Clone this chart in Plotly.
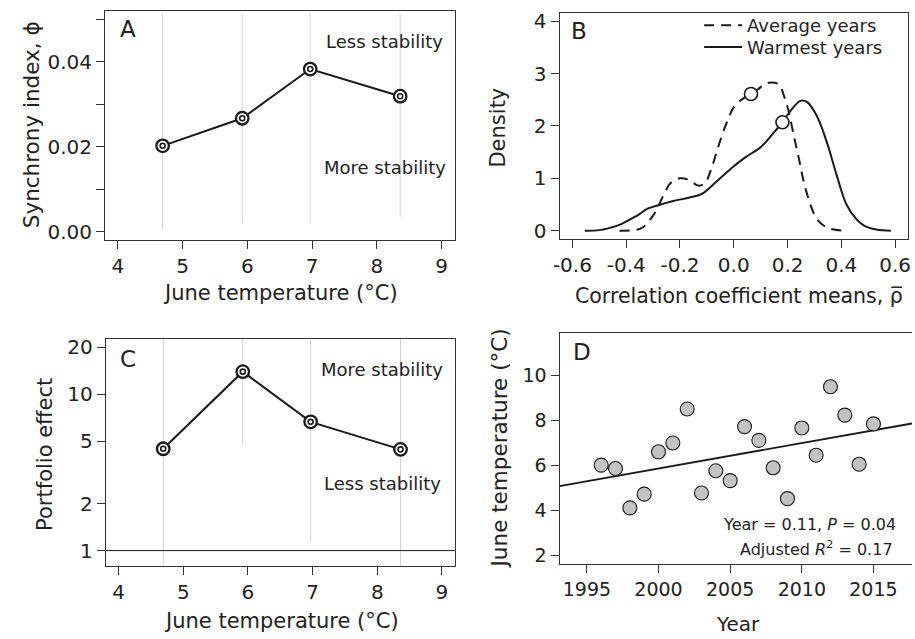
import plotly.graph_objects as go
import numpy as np

# ---------------- data ----------------
# Panels A & C
june_temp_groups = [4.69, 5.92, 6.97, 8.36]
synchrony_phi = [0.0202, 0.0267, 0.0383, 0.0319]
synchrony_ci_low = [0.0005, 0.0019, 0.0017, 0.0035]
synchrony_ci_high = [0.0514, 0.0514, 0.0514, 0.0514]
portfolio_effect = [4.49, 14.0, 6.68, 4.45]
portfolio_ci_low = [0.5, 4.76, 1.14, 0.5]
portfolio_ci_high = [40, 40, 40, 40]

# Panel B (density curves)
avg_rho = [-0.425, -0.37, -0.339, -0.297, -0.26, -0.235, -0.199, -0.168, -0.131, -0.107,
           -0.083, -0.058, -0.028, 0.003, 0.04, 0.064, 0.09, 0.113, 0.138, 0.168, 0.187,
           0.205, 0.223, 0.242, 0.26, 0.285, 0.309, 0.346, 0.401]
avg_density = [0.0, 0.01, 0.06, 0.31, 0.69, 0.91, 1.0, 0.97, 0.86, 0.91,
               1.19, 1.6, 2.04, 2.38, 2.54, 2.61, 2.7, 2.79, 2.83, 2.79, 2.57,
               2.26, 1.82, 1.38, 0.94, 0.5, 0.22, 0.06, 0.0]
warm_rho = [-0.554, -0.5, -0.456, -0.425, -0.394, -0.352, -0.321, -0.29, -0.229, -0.168,
            -0.119, -0.07, -0.009, 0.04, 0.101, 0.15, 0.181, 0.211, 0.248, 0.272, 0.309,
            0.346, 0.382, 0.419, 0.456, 0.486, 0.53, 0.584]
warm_density = [0.0, 0.01, 0.06, 0.11, 0.19, 0.31, 0.42, 0.47, 0.56, 0.63,
                0.70, 0.91, 1.19, 1.39, 1.60, 1.88, 2.07, 2.29, 2.48, 2.46, 2.19,
                1.69, 1.07, 0.50, 0.22, 0.09, 0.02, 0.0]
mean_rho = [0.064, 0.181]
mean_density = [2.61, 2.07]

# Panel D
years = list(range(1996, 2016))
june_temp = [6.02, 5.87, 4.12, 4.73, 6.61, 7.0, 8.51, 4.78, 5.77, 5.33,
             7.73, 7.12, 5.90, 4.53, 7.67, 6.46, 9.50, 8.24, 6.06, 7.85]

# tick labels
tempA_ticks = [4, 5, 6, 7, 8, 9]
phi_ticks = [0, 0.02, 0.04]
phi_ticktext = ["0.00", "0.02", "0.04"]
phi_minor_ticks = [0.01, 0.03, 0.05]
rho_ticks = [-0.6, -0.4, -0.2, 0.0, 0.2, 0.4, 0.6]
rho_ticktext = ["-0.6", "-0.4", "-0.2", "0.0", "0.2", "0.4", "0.6"]
dens_ticks = [0, 1, 2, 3, 4]
pe_ticks = [1, 2, 5, 10, 20]
year_ticks = [1995, 2000, 2005, 2010, 2015]
jt_ticks = [2, 4, 6, 8, 10]

# ---------------- layout helpers ----------------
W, H = 915, 639
FONT = "DejaVu Sans"
TXT = "#222222"
AX = "#333333"


def fx(p):
    return p / W


def fy(p):
    return 1 - p / H


def seg(xs, lo, hi):
    X, Y = [], []
    for x, a, b in zip(xs, lo, hi):
        X += [x, x, None]
        Y += [a, b, None]
    return X, Y


fig = go.Figure()

# ---- Panel A ----
cx, cy = seg(june_temp_groups, synchrony_ci_low, synchrony_ci_high)
fig.add_trace(go.Scatter(x=cx, y=cy, mode="lines", line=dict(color="#d4d4d4", width=1),
                         xaxis="x", yaxis="y", showlegend=False, hoverinfo="skip"))
fig.add_trace(go.Scatter(x=june_temp_groups, y=synchrony_phi, mode="lines+markers",
                         line=dict(color="#1a1a1a", width=2),
                         marker=dict(symbol="circle", size=12.5, color="white",
                                     line=dict(color="#1a1a1a", width=2.3)),
                         xaxis="x", yaxis="y", showlegend=False))
fig.add_trace(go.Scatter(x=june_temp_groups, y=synchrony_phi, mode="markers",
                         marker=dict(symbol="circle", size=5, color="white",
                                     line=dict(color="#1a1a1a", width=1.6)),
                         xaxis="x", yaxis="y", showlegend=False))

# ---- Panel B ----
fig.add_trace(go.Scatter(x=avg_rho, y=avg_density, mode="lines", name="Average years",
                         line=dict(color="#1a1a1a", width=2, dash="10px,7px", shape="spline"),
                         xaxis="x2", yaxis="y2", showlegend=True, legend="legend"))
fig.add_trace(go.Scatter(x=warm_rho, y=warm_density, mode="lines", name="Warmest years",
                         line=dict(color="#1a1a1a", width=2, shape="spline"),
                         xaxis="x2", yaxis="y2", showlegend=True, legend="legend2"))
fig.add_trace(go.Scatter(x=mean_rho, y=mean_density, mode="markers",
                         marker=dict(symbol="circle", size=13, color="white",
                                     line=dict(color="#1a1a1a", width=1.6)),
                         xaxis="x2", yaxis="y2", showlegend=False))

# ---- Panel C ----
cx, cy = seg(june_temp_groups, portfolio_ci_low, portfolio_ci_high)
fig.add_trace(go.Scatter(x=cx, y=cy, mode="lines", line=dict(color="#d4d4d4", width=1),
                         xaxis="x3", yaxis="y3", showlegend=False, hoverinfo="skip"))
fig.add_trace(go.Scatter(x=june_temp_groups, y=portfolio_effect, mode="lines+markers",
                         line=dict(color="#1a1a1a", width=2),
                         marker=dict(symbol="circle", size=12.5, color="white",
                                     line=dict(color="#1a1a1a", width=2.3)),
                         xaxis="x3", yaxis="y3", showlegend=False))
fig.add_trace(go.Scatter(x=june_temp_groups, y=portfolio_effect, mode="markers",
                         marker=dict(symbol="circle", size=5, color="white",
                                     line=dict(color="#1a1a1a", width=1.6)),
                         xaxis="x3", yaxis="y3", showlegend=False))

# ---- Panel D ----
d_xrange = [1993.09, 2017.69]
slope, intercept = np.polyfit(years, june_temp, 1)
fig.add_trace(go.Scatter(x=d_xrange, y=[intercept + slope * v for v in d_xrange], mode="lines",
                         line=dict(color="#1a1a1a", width=1.8),
                         xaxis="x4", yaxis="y4", showlegend=False))
fig.add_trace(go.Scatter(x=years, y=june_temp, mode="markers",
                         marker=dict(symbol="circle", size=14, color="#c3c3c3",
                                     line=dict(color="#1a1a1a", width=1.1)),
                         xaxis="x4", yaxis="y4", showlegend=False))


def axis(domain, rng, tickvals, ticktext=None, anchor=None, mirror=True, typ="linear",
         size=20, minor_vals=None):
    d = dict(domain=domain, range=rng, tickmode="array", tickvals=tickvals,
             showline=True, linecolor=AX, linewidth=1, mirror=mirror,
             ticks="outside", ticklen=8, tickwidth=1, tickcolor=AX,
             showgrid=False, zeroline=False, type=typ, anchor=anchor,
             tickfont=dict(family=FONT, size=size, color=TXT))
    if ticktext is not None:
        d["ticktext"] = ticktext
    if minor_vals is not None:
        d["minor"] = dict(tickmode="array", tickvals=minor_vals, ticks="outside",
                          ticklen=8, tickwidth=1, tickcolor=AX, showgrid=False)
    return d


domA_x, domA_y = [fx(100), fx(453)], [fy(239), fy(7)]
domB_x, domB_y = [fx(559), fx(911)], [fy(238), fy(9)]
domC_x, domC_y = [fx(100.7), fx(453.3)], [fy(569.3), fy(339.3)]
domD_x, domD_y = [fx(559), 1.0], [fy(567.3), fy(333.3)]

leg_common = dict(xanchor="left", yanchor="top", bgcolor="rgba(0,0,0,0)",
                  font=dict(family=FONT, size=18, color=TXT), itemwidth=38)

fig.update_layout(
    width=W, height=H, margin=dict(l=0, r=0, t=0, b=0),
    paper_bgcolor="white", plot_bgcolor="white",
    font=dict(family=FONT, color=TXT),
    xaxis=axis(domA_x, [3.8, 9.2], tempA_ticks, anchor="y"),
    yaxis=axis(domA_y, [-0.002, 0.052], phi_ticks, phi_ticktext, anchor="x",
               minor_vals=phi_minor_ticks),
    xaxis2=axis(domB_x, [-0.648, 0.648], rho_ticks, rho_ticktext, anchor="y2"),
    yaxis2=axis(domB_y, [-0.16, 4.16], dens_ticks, anchor="x2"),
    xaxis3=axis(domC_x, [3.8, 9.2], tempA_ticks, anchor="y3"),
    yaxis3=axis(domC_y, [-0.0997, 1.355], pe_ticks, [str(v) for v in pe_ticks], anchor="x3", typ="log"),
    xaxis4=axis(domD_x, d_xrange, year_ticks, anchor="y4", size=19),
    yaxis4=axis(domD_y, [1.62, 11.88], jt_ticks, anchor="x4", mirror=False, size=19),
    legend=dict(x=fx(700), y=fy(3), **leg_common),
    legend2=dict(x=fx(700), y=fy(25), **leg_common),
)

fig.add_shape(type="line", xref="x3 domain", yref="y3", x0=0, x1=1, y0=1, y1=1,
              line=dict(color="#1a1a1a", width=1))


def ann(text, x, y, size, angle=0, xanchor="center"):
    fig.add_annotation(text=text, x=fx(x), y=fy(y), xref="paper", yref="paper",
                       xanchor=xanchor, yanchor="middle", showarrow=False, textangle=angle,
                       font=dict(family=FONT, size=size, color=TXT))


# panel letters
ann("A", 123, 25, 23)
ann("B", 579, 27, 23)
ann("C", 123, 359, 23)
ann("D", 582, 352, 23)

# stability labels
ann("Less stability", 382, 38, 18)
ann("More stability", 383, 166, 18)
ann("More stability", 380, 370, 18)
ann("Less stability", 380, 486, 18)

# axis titles
ann("June temperature (°C)", 277, 293, 21)
ann("Synchrony index, ϕ", 26, 122, 21.5, angle=-90)
ann("Correlation coefficient means, ρ̅", 740, 296, 20.5)
ann("Density", 497, 125, 21, angle=-90)
ann("June temperature (°C)", 278, 625, 21)
ann("Portfolio effect", 40, 456, 21, angle=-90)
ann("Year", 739, 628, 20)
ann("June temperature (°C)", 498, 450, 21.5, angle=-90)

# stats text in D
ann("Year = 0.11, <i>P</i> = 0.04", 901, 527, 16, xanchor="right")
ann("Adjusted <i>R</i><sup>2</sup> = 0.17", 898, 551, 16, xanchor="right")

fig.write_html("out.html")
